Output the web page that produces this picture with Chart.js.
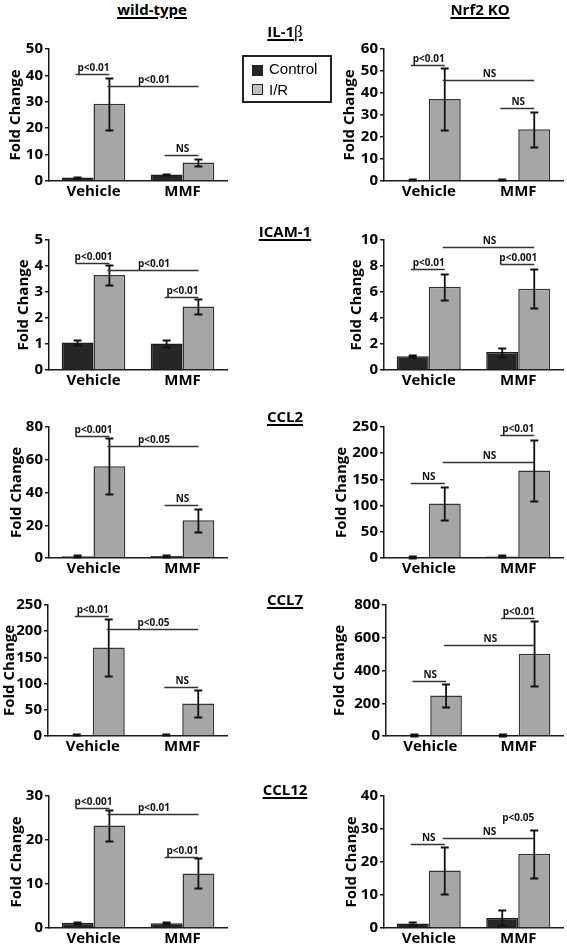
<!DOCTYPE html>
<html>
<head>
<meta charset="utf-8">
<script src="https://cdn.jsdelivr.net/npm/chart.js@4.4.1/dist/chart.umd.min.js"></script>
<style>
  body { margin: 0; width: 567px; height: 944px; position: relative; background: #fff; overflow: hidden; }
  canvas { position: absolute; }
  .head { position: absolute; font: bold 15px 'Open Sans'; color: #000; text-align: center; line-height: 18px; white-space: nowrap; }
  .head span { text-decoration: underline; text-decoration-thickness: 1.5px; text-underline-offset: 2px; }
  .beta { font-family: 'Liberation Serif'; font-weight: normal; font-size: 17px; }
  .legend { position: absolute; left: 242px; top: 55px; width: 90px; height: 48px; box-sizing: border-box; border: 2px solid #222; }
  .sw { position: absolute; width: 11px; height: 11px; box-sizing: border-box; border: 1px solid #222; }
  .lt { position: absolute; font: 15px 'Liberation Sans'; line-height: 17px; color: #000; }
</style>
</head>
<body>
<script>
const categories = ['Vehicle', 'MMF']
const seriesLabels = ['Control', 'I/R']
const genes = ['IL-1β', 'ICAM-1', 'CCL2', 'CCL7', 'CCL12']

// wild-type, one [Vehicle, MMF] pair per gene
const wtControl = [[1.3, 2.5], [1.06, 1.02], [1.0, 1.2], [2, 2], [1.2, 1.1]]
const wtControlSem = [[0.2, 0.3], [0.1, 0.13], [0.6, 0.6], [1, 1], [0.2, 0.3]]
const wtIR = [[29.3, 7.0], [3.65, 2.44], [56, 23], [169, 62], [23.3, 12.4]]
const wtIRSem = [[9.8, 1.5], [0.38, 0.3], [17, 7], [54, 25], [3.5, 3.4]]

// Nrf2 KO
const koControl = [[0.5, 0.5], [1.05, 1.38], [2, 3], [6, 6], [1.4, 3.1]]
const koControlSem = [[0.2, 0.2], [0.08, 0.35], [2, 2], [4, 4], [0.5, 2.3]]
const koIR = [[37.3, 23.5], [6.4, 6.25], [104, 167], [247, 503], [17.4, 22.5]]
const koIRSem = [[14, 8], [1.0, 1.5], [32, 58], [68, 200], [7, 7.3]]

const wtAxisMax = [50, 5, 80, 250, 30]
const wtAxisStep = [10, 1, 20, 50, 10]
const koAxisMax = [60, 10, 250, 800, 40]
const koAxisStep = [10, 2, 50, 200, 10]

// significance: [from category, from series, to category, to series, height, label, line?]
const wtStats = [
  [[0, 0, 0, 1, 40.6, 'p<0.01'], [0, 1, 1, 1, 36.1, 'p<0.01'], [1, 0, 1, 1, 9.7, 'NS']],
  [[0, 0, 0, 1, 4.1, 'p<0.001'], [0, 1, 1, 1, 3.85, 'p<0.01'], [1, 0, 1, 1, 2.8, 'p<0.01']],
  [[0, 0, 0, 1, 74.2, 'p<0.001'], [0, 1, 1, 1, 68.5, 'p<0.05'], [1, 0, 1, 1, 32.3, 'NS']],
  [[0, 0, 0, 1, 229, 'p<0.01'], [0, 1, 1, 1, 205, 'p<0.05'], [1, 0, 1, 1, 93, 'NS']],
  [[0, 0, 0, 1, 27.2, 'p<0.001'], [0, 1, 1, 1, 25.8, 'p<0.01'], [1, 0, 1, 1, 16.1, 'p<0.01']]
]
const koStats = [
  [[0, 0, 0, 1, 52.7, 'p<0.01'], [0, 1, 1, 1, 46, 'NS'], [1, 0, 1, 1, 33.3, 'NS']],
  [[0, 0, 0, 1, 7.77, 'p<0.01'], [0, 1, 1, 1, 9.44, 'NS'], [1, 0, 1, 1, 8.15, 'p<0.001']],
  [[0, 0, 0, 1, 142.6, 'NS'], [0, 1, 1, 1, 183, 'NS'], [1, 0, 1, 1, 235, 'p<0.01']],
  [[0, 0, 0, 1, 336, 'NS'], [0, 1, 1, 1, 553, 'NS'], [1, 0, 1, 1, 721, 'p<0.01']],
  [[0, 0, 0, 1, 25.6, 'NS'], [0, 1, 1, 1, 27.4, 'NS'], [1, 0, 1, 1, 31.6, 'p<0.05', false]]
]

// page layout
const rowTop = [49, 240, 427, 605, 796]
const rowBottom = [181, 370, 558, 736, 928]
const geneTitleTop = [22, 222, 407, 590, 780]

const columns = [
  {
    left: 0, width: 232, padRight: 5,
    axisX: [49, 49, 49, 48, 49], titleX: [16, 24, 17, 10, 17],
    control: wtControl, controlSem: wtControlSem, ir: wtIR, irSem: wtIRSem,
    max: wtAxisMax, step: wtAxisStep, stats: wtStats
  },
  {
    left: 330, width: 237, padRight: 4,
    axisX: [384, 384, 384, 386, 384], titleX: [350, 357, 342, 340, 352],
    control: koControl, controlSem: koControlSem, ir: koIR, irSem: koIRSem,
    max: koAxisMax, step: koAxisStep, stats: koStats
  }
]

Chart.defaults.font.family = 'Open Sans'
Chart.defaults.color = '#000'

const boldFont = size => ({ family: 'Open Sans', weight: 'bold', size })

// error bars + significance bars, positioned through the chart's own scales
const marks = (sems, stats) => ({
  id: 'marks',
  afterDatasetsDraw (chart) {
    const ctx = chart.ctx
    const y = chart.scales.y
    ctx.save()
    ctx.strokeStyle = '#111'
    ctx.lineWidth = 1.8
    chart.data.datasets.forEach((ds, d) => {
      chart.getDatasetMeta(d).data.forEach((bar, i) => {
        const v = ds.data[i]
        const e = sems[d][i]
        const top = Math.round(y.getPixelForValue(v + e)) + 0.5
        const bot = Math.round(y.getPixelForValue(Math.max(v - e, 0))) + 0.5
        ctx.beginPath()
        ctx.moveTo(bar.x, top); ctx.lineTo(bar.x, bot)
        ctx.moveTo(bar.x - 4, top); ctx.lineTo(bar.x + 4, top)
        ctx.moveTo(bar.x - 4, bot); ctx.lineTo(bar.x + 4, bot)
        ctx.stroke()
      })
    })
    ctx.strokeStyle = '#333'
    ctx.lineWidth = 1.5
    ctx.font = 'bold 10px "Open Sans"'
    ctx.fillStyle = '#111'
    ctx.textAlign = 'center'
    ctx.textBaseline = 'alphabetic'
    stats.forEach(([c1, s1, c2, s2, h, label, line]) => {
      const x1 = chart.getDatasetMeta(s1).data[c1].x
      const x2 = chart.getDatasetMeta(s2).data[c2].x
      const py = Math.round(y.getPixelForValue(h)) + 0.5
      if (line !== false) {
        ctx.beginPath()
        ctx.moveTo(x1 - 2, py); ctx.lineTo(x2, py)
        ctx.stroke()
      }
      ctx.fillText(label, (x1 + x2) / 2, py - 3.5)
    })
    ctx.restore()
  }
})

columns.forEach(col => {
  genes.forEach((gene, g) => {
    const canvas = document.createElement('canvas')
    const canvasTop = rowTop[g] - 14
    const height = rowBottom[g] - canvasTop + 30
    canvas.width = col.width
    canvas.height = height
    canvas.style.left = col.left + 'px'
    canvas.style.top = canvasTop + 'px'
    document.body.appendChild(canvas)
    const yWidth = col.axisX[g] - col.left

    new Chart(canvas, {
      type: 'bar',
      data: {
        labels: categories,
        datasets: [
          { label: seriesLabels[0], data: col.control[g], backgroundColor: '#262626', borderColor: '#1c1c1c', borderWidth: 1.5 },
          { label: seriesLabels[1], data: col.ir[g], backgroundColor: '#a6a6a6', borderColor: '#333', borderWidth: 1.5 }
        ]
      },
      options: {
        responsive: false,
        animation: false,
        layout: { padding: { top: 14, right: col.padRight, bottom: 0, left: 0 } },
        datasets: { bar: { barPercentage: 1, categoryPercentage: 0.715 } },
        plugins: { legend: { display: false }, tooltip: { enabled: false } },
        scales: {
          x: {
            grid: { display: false, drawTicks: false },
            border: { display: true, color: '#1a1a1a', width: 1.5 },
            ticks: { font: boldFont(15), padding: 2, maxRotation: 0 },
            afterFit: s => { s.height = 30 }
          },
          y: {
            min: 0,
            max: col.max[g],
            ticks: { stepSize: col.step[g], font: boldFont(15), padding: 2, autoSkip: false },
            grid: { drawOnChartArea: false, drawTicks: true, tickLength: 4, color: '#1a1a1a', lineWidth: 1.5 },
            border: { display: true, color: '#1a1a1a', width: 1.5 },
            title: {
              display: true,
              text: 'Fold Change',
              font: boldFont(15),
              padding: { top: col.titleX[g] - col.left - 9, bottom: 0 }
            },
            afterFit: s => { s.width = yWidth }
          }
        }
      },
      plugins: [marks([col.controlSem[g], col.irSem[g]], col.stats[g])]
    })
  })
})

// headings
const addHead = (html, cx, top) => {
  const d = document.createElement('div')
  d.className = 'head'
  d.style.left = (cx - 60) + 'px'
  d.style.width = '120px'
  d.style.top = top + 'px'
  d.innerHTML = '<span>' + html + '</span>'
  document.body.appendChild(d)
}
addHead('wild-type', 152, 0)
addHead('Nrf2 KO', 480, 0)
genes.forEach((gene, g) => {
  const html = gene.replace('β', '<span class="beta">β</span>')
  addHead(html, 285, geneTitleTop[g])
})

// legend
const legend = document.createElement('div')
legend.className = 'legend'
document.body.appendChild(legend)
const legendColors = ['#262626', '#bfbfbf']
seriesLabels.forEach((name, i) => {
  const sw = document.createElement('div')
  sw.className = 'sw'
  sw.style.left = '252px'
  sw.style.top = (65 + i * 19) + 'px'
  sw.style.background = legendColors[i]
  document.body.appendChild(sw)
  const t = document.createElement('div')
  t.className = 'lt'
  t.style.left = '269px'
  t.style.top = (60 + i * 20.5) + 'px'
  t.textContent = name
  document.body.appendChild(t)
})
</script>
</body>
</html>
